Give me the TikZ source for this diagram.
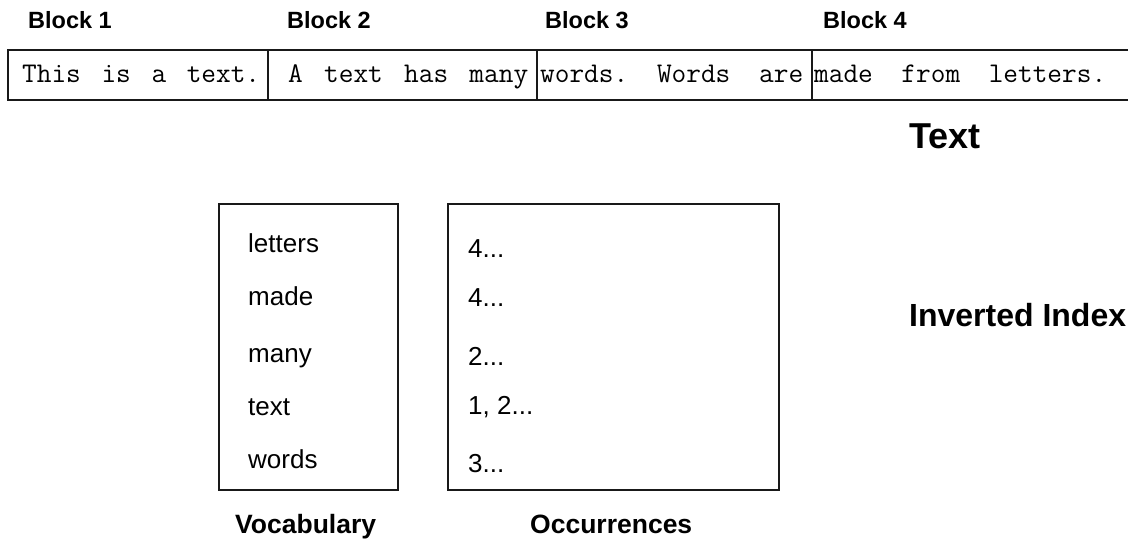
\documentclass[tikz,border=0pt]{standalone}
\usepackage{fontspec}
\setmainfont{Liberation Sans}
\begin{document}
\begin{tikzpicture}[x=1pt,y=-1pt,
  boxline/.style={draw=black!90,line width=1.6pt},
  blocklabel/.style={anchor=base west,inner sep=0pt,font=\bfseries\fontsize{23.5}{28}\selectfont},
  mono/.style={anchor=base west,inner sep=0pt,font=\ttfamily\fontsize{28.5}{32}\selectfont},
  item/.style={anchor=base west,inner sep=0pt,font=\fontsize{26}{30}\selectfont},
  title/.style={anchor=base west,inner sep=0pt,font=\bfseries}]
\useasboundingbox (0,0) rectangle (1128,552);
% text row
\draw[boxline] (1140,50) -- (8,50) -- (8,100) -- (1140,100);
\draw[boxline] (268,50) -- (268,100);
\draw[boxline] (537,50) -- (537,100);
\draw[boxline] (812,50) -- (812,100);
\node[blocklabel] (b1) at (28,28) {Block 1};
\node[blocklabel] (b2) at (287,28) {Block 2};
\node[blocklabel] (b3) at (545,28) {Block 3};
\node[blocklabel] (b4) at (823,28) {Block 4};
\node[mono] (t1) at (22,82) {\makebox[238pt][l]{This\hfill is\hfill a\hfill text.}};
\node[mono] (t2) at (288,82) {\makebox[240pt][l]{A\hfill text\hfill has\hfill many}};
\node[mono] (t3) at (540,82) {\makebox[263pt][l]{words.\hfill Words\hfill are}};
\node[mono] (t4) at (814,82) {\makebox[292pt][l]{made\hfill from\hfill letters.}};
\node[title,font=\bfseries\fontsize{36}{42}\selectfont] (ttext) at (909,148) {Text};
\node[title,font=\bfseries\fontsize{32}{38}\selectfont] (tinv) at (909,326) {Inverted Index};
% index boxes
\draw[boxline] (219,204) rectangle (398,490);
\draw[boxline] (448,204) rectangle (779,490);
\node[item] (v1) at (248,252) {letters};
\node[item] (v2) at (248,305) {made};
\node[item] (v3) at (248,362) {many};
\node[item] (v4) at (248,415) {text};
\node[item] (v5) at (248,468) {words};
\node[item] (o1) at (468,257) {4...};
\node[item] (o2) at (468,306) {4...};
\node[item] (o3) at (468,365) {2...};
\node[item] (o4) at (468,414) {1, 2...};
\node[item] (o5) at (468,472) {3...};
\node[title,font=\bfseries\fontsize{26.5}{30}\selectfont] (lv) at (235,533) {Vocabulary};
\node[title,font=\bfseries\fontsize{26.5}{30}\selectfont] (lo) at (530,533) {Occurrences};
\end{tikzpicture}
\end{document}
